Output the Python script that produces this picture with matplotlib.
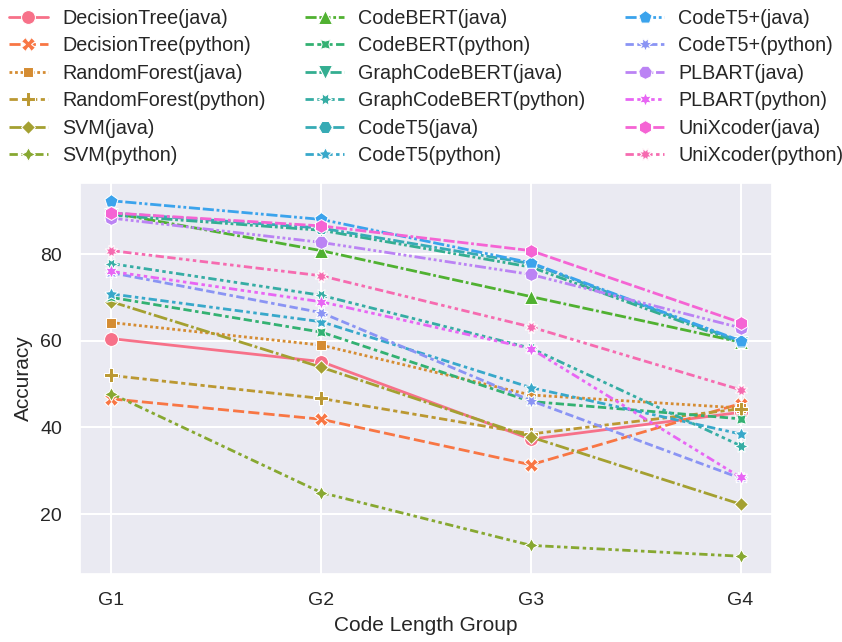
import matplotlib
matplotlib.use("Agg")
import matplotlib.pyplot as plt
import seaborn as sns
import pandas as pd

groups = ["G1", "G2", "G3", "G4"]

series_names = [
    "DecisionTree(java)", "DecisionTree(python)",
    "RandomForest(java)", "RandomForest(python)",
    "SVM(java)", "SVM(python)",
    "CodeBERT(java)", "CodeBERT(python)",
    "GraphCodeBERT(java)", "GraphCodeBERT(python)",
    "CodeT5(java)", "CodeT5(python)",
    "CodeT5+(java)", "CodeT5+(python)",
    "PLBART(java)", "PLBART(python)",
    "UniXcoder(java)", "UniXcoder(python)",
]

dt_java = [60.5, 55.2, 37.3, 43.5]
dt_python = [46.6, 41.9, 31.4, 45.5]
rf_java = [64.2, 59.0, 47.5, 44.5]
rf_python = [52.0, 46.7, 38.5, 44.3]
svm_java = [69.0, 53.9, 37.8, 22.3]
svm_python = [47.8, 25.0, 12.8, 10.3]
codebert_java = [89.5, 80.8, 70.2, 59.7]
codebert_python = [70.0, 62.0, 46.0, 42.0]
graphcodebert_java = [89.0, 85.5, 77.0, 59.5]
graphcodebert_python = [77.8, 70.5, 58.3, 35.8]
codet5_java = [89.5, 86.0, 77.8, 59.8]
codet5_python = [70.8, 64.4, 49.2, 38.5]
codet5p_java = [92.3, 88.0, 78.0, 60.0]
codet5p_python = [75.7, 66.5, 46.2, 28.3]
plbart_java = [88.3, 82.7, 75.3, 63.0]
plbart_python = [76.0, 69.0, 58.2, 28.5]
unixcoder_java = [89.5, 86.5, 80.8, 64.2]
unixcoder_python = [80.8, 75.0, 63.2, 48.7]

series_values = [
    dt_java, dt_python, rf_java, rf_python, svm_java, svm_python,
    codebert_java, codebert_python, graphcodebert_java, graphcodebert_python,
    codet5_java, codet5_python, codet5p_java, codet5p_python,
    plbart_java, plbart_python, unixcoder_java, unixcoder_python,
]

rows = []
for name, vals in zip(series_names, series_values):
    for g, v in zip(groups, vals):
        rows.append({"Code Length Group": g, "Accuracy": v, "Model": name})
df = pd.DataFrame(rows)

sns.set_theme(style="darkgrid", rc={"grid.linewidth": 1.5})
plt.rcParams["font.family"] = ["Liberation Sans", "DejaVu Sans"]
plt.rcParams["font.size"] = 14

fig = plt.figure(figsize=(8.42, 6.42), dpi=100)
ax = fig.add_axes([80 / 842, 68 / 642, 692 / 842, 391 / 642])

sns.lineplot(data=df, x="Code Length Group", y="Accuracy", hue="Model",
             style="Model", markers=True, markersize=10, linewidth=2,
             sort=False, ax=ax)

ax.tick_params(labelsize=14, pad=7)
ax.set_xlabel("Code Length Group", fontsize=15, labelpad=5)
ax.set_ylabel("Accuracy", fontsize=15, labelpad=5)
ax.set_yticks([20, 40, 60, 80])

sns.move_legend(ax, "lower center", bbox_to_anchor=(0.5, 1.0), ncol=3,
                frameon=False, title=None, fontsize=14.2,
                columnspacing=2.0, handlelength=2.0, labelspacing=0.43,
                handletextpad=0.7)

fig.savefig("out.png", dpi=100)
